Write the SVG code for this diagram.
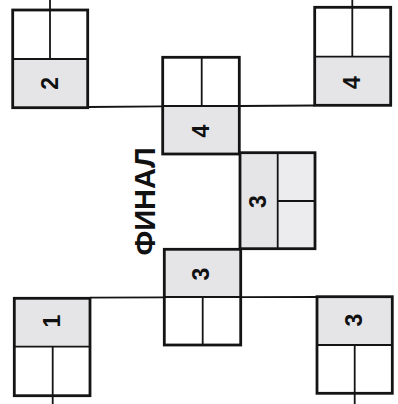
<svg xmlns="http://www.w3.org/2000/svg" width="398" height="404" viewBox="0 0 398 404">
<style>
.box{fill:none;stroke:#141414;stroke-width:2.8}
.div{fill:none;stroke:#141414;stroke-width:1.8}
.sh{fill:#e5e5e8}
.sh2{fill:#ececee}
.num{font-family:"Liberation Sans",Arial,sans-serif;font-weight:bold;font-size:23px;fill:#111;text-anchor:middle}
.title{font-family:"Liberation Sans",Arial,sans-serif;font-weight:bold;font-size:29px;fill:#111;text-anchor:middle}
.con{fill:none;stroke:#141414;stroke-width:1.8}
</style>
<rect width="398" height="404" fill="#fff"/>
<g id="connectors">
<line class="con" x1="50" y1="0" x2="50" y2="10"/>
<line class="con" x1="352.3" y1="0" x2="352.3" y2="7.3"/>
<line class="con" x1="87.7" y1="107" x2="162.7" y2="106.3"/>
<line class="con" x1="239.3" y1="106" x2="314.7" y2="105.5"/>
<line class="con" x1="90" y1="297.7" x2="164.3" y2="297.3"/>
<line class="con" x1="240.7" y1="297.2" x2="317" y2="297"/>
<line class="con" x1="52.7" y1="395.7" x2="52.7" y2="404"/>
<line class="con" x1="354.7" y1="393.3" x2="354.7" y2="404"/>
</g>
<g id="node-2">
<rect class="sh" x="12.7" y="59" width="75" height="48.7"/>
<line class="div" x1="12.7" y1="59" x2="87.7" y2="59"/>
<line class="div" x1="50" y1="10" x2="50" y2="59"/>
<rect class="box" x="12.7" y="10" width="75" height="97.7"/>
<text class="num" x="50" y="91.5" transform="rotate(-90 50 83.3)">2</text>
</g>
<g id="node-4-top-right">
<rect class="sh" x="314.7" y="56.7" width="76" height="48.6"/>
<line class="div" x1="314.7" y1="56.7" x2="390.7" y2="56.7"/>
<line class="div" x1="352.3" y1="7.3" x2="352.3" y2="56.7"/>
<rect class="box" x="314.7" y="7.3" width="76" height="98"/>
<text class="num" x="351.7" y="90.7" transform="rotate(-90 351.7 82.5)">4</text>
</g>
<g id="node-4-center">
<rect class="sh" x="162.7" y="106" width="76.6" height="48"/>
<line class="div" x1="162.7" y1="106" x2="239.3" y2="106"/>
<line class="div" x1="201.7" y1="57.3" x2="201.7" y2="106"/>
<rect class="box" x="162.7" y="57.3" width="76.6" height="96.7"/>
<text class="num" x="201" y="139.2" transform="rotate(-90 201 131)">4</text>
</g>
<g id="node-3-big">
<rect class="sh" x="240" y="152.7" width="37.7" height="96"/>
<rect class="sh2" x="277.7" y="152.7" width="37.3" height="96"/>
<line class="div" x1="277.7" y1="152.7" x2="277.7" y2="248.7"/>
<line class="div" x1="277.7" y1="201" x2="315" y2="201"/>
<rect class="box" x="240" y="152.7" width="75" height="96"/>
<text class="num" x="257.5" y="209.9" transform="rotate(-90 257.5 201.7)">3</text>
</g>
<g id="node-3-center">
<rect class="sh" x="164.3" y="249.3" width="76.4" height="47.7"/>
<line class="div" x1="164.3" y1="297" x2="240.7" y2="297"/>
<line class="div" x1="202.7" y1="297" x2="202.7" y2="345"/>
<rect class="box" x="164.3" y="249.3" width="76.4" height="95.7"/>
<text class="num" x="201" y="282.2" transform="rotate(-90 201 274)">3</text>
</g>
<g id="node-1">
<rect class="sh" x="14.3" y="298.3" width="75.7" height="48.4"/>
<line class="div" x1="14.3" y1="346.7" x2="90" y2="346.7"/>
<line class="div" x1="52.7" y1="346.7" x2="52.7" y2="395.7"/>
<rect class="box" x="14.3" y="298.3" width="75.7" height="97.4"/>
<text class="num" x="51.7" y="329.2" transform="rotate(-90 51.7 321)">1</text>
</g>
<g id="node-3-bottom-right">
<rect class="sh" x="317" y="296.7" width="75.3" height="48.3"/>
<line class="div" x1="317" y1="345" x2="392.3" y2="345"/>
<line class="div" x1="354.7" y1="345" x2="354.7" y2="393.3"/>
<rect class="box" x="317" y="296.7" width="75.3" height="96.6"/>
<text class="num" x="354" y="328.2" transform="rotate(-90 354 320)">3</text>
</g>
<g id="title">
<text class="title" x="145" y="211.9" transform="rotate(-90 145 201.5)">ФИНАЛ</text>
</g>
</svg>
